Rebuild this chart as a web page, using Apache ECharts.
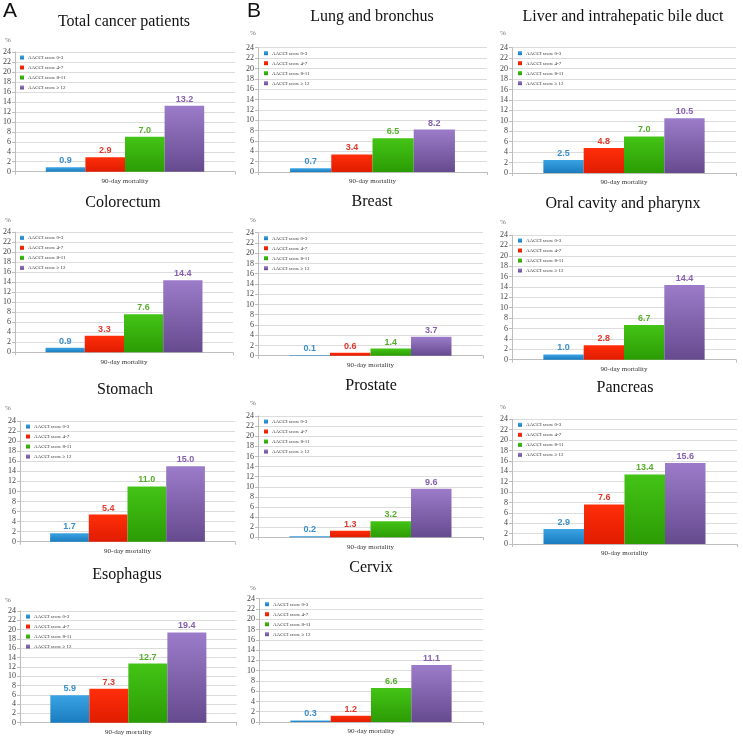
<!DOCTYPE html>
<html>
<head>
<meta charset="utf-8">
<script src="https://cdn.jsdelivr.net/npm/echarts@6/dist/echarts.min.js"></script>
<style>
html,body{margin:0;padding:0;background:#fff;}
#chart{width:743px;height:736px;}
</style>
</head>
<body>
<div id="chart"></div>
<script>
// ---- data ----
const categories = ['90-day mortality'];
const seriesNames = ['AACCI score 0-3', 'AACCI score 4-7', 'AACCI score 8-11', 'AACCI score \u2265 12'];
const panelTitles = ['Total cancer patients', 'Lung and bronchus', 'Liver and intrahepatic bile duct',
  'Colorectum', 'Breast', 'Oral cavity and pharynx',
  'Stomach', 'Prostate', 'Pancreas',
  'Esophagus', 'Cervix'];
const totalValues = [0.9, 2.9, 7.0, 13.2];
const lungValues = [0.7, 3.4, 6.5, 8.2];
const liverValues = [2.5, 4.8, 7.0, 10.5];
const colorectumValues = [0.9, 3.3, 7.6, 14.4];
const breastValues = [0.1, 0.6, 1.4, 3.7];
const oralValues = [1.0, 2.8, 6.7, 14.4];
const stomachValues = [1.7, 5.4, 11.0, 15.0];
const prostateValues = [0.2, 1.3, 3.2, 9.6];
const pancreasValues = [2.9, 7.6, 13.4, 15.6];
const esophagusValues = [5.9, 7.3, 12.7, 19.4];
const cervixValues = [0.3, 1.2, 6.6, 11.1];
const yAxisMin = 0, yAxisMax = 24, yAxisStep = 2;
const yAxisUnit = '%';
const panelLetters = ['A', 'B'];

const panelValues = [totalValues, lungValues, liverValues, colorectumValues, breastValues, oralValues,
  stomachValues, prostateValues, pancreasValues, esophagusValues, cervixValues];

// ---- layout (pixels) ----
const panelLayout = [
  {l: 14, r: 235, t: 52, b: 171.7, tx: 124, ty: 21.5, px: 5, py: 40},
  {l: 258, r: 487, t: 47.7, b: 172, tx: 372, ty: 17, px: 250, py: 33},
  {l: 512, r: 736, t: 47.7, b: 173, tx: 623, ty: 17, px: 500, py: 33},
  {l: 14, r: 233, t: 232.3, b: 352.3, tx: 123, ty: 202.5, px: 5, py: 220},
  {l: 258, r: 483, t: 232.7, b: 355.7, tx: 372, ty: 202, px: 250, py: 220},
  {l: 512, r: 736, t: 235, b: 359.7, tx: 623, ty: 204, px: 500, py: 221.7},
  {l: 20, r: 235, t: 421, b: 541.7, tx: 125, ty: 390, px: 5, py: 408},
  {l: 258, r: 483, t: 416, b: 537.3, tx: 371, ty: 386, px: 250, py: 403},
  {l: 512, r: 737, t: 419.3, b: 544, tx: 625, ty: 387.5, px: 500, py: 406.7},
  {l: 20, r: 236.7, t: 611, b: 722.7, tx: 127, ty: 575, px: 5, py: 600},
  {l: 259, r: 483, t: 598.7, b: 722, tx: 371, ty: 568, px: 250, py: 587.7}
];
const letterPos = [{x: 3, y: 1}, {x: 247, y: 1}];

// ---- styles ----
const barColors = [
  ['#3aa3e3', '#1a7cc0'],
  ['#ff2e0a', '#e01c00'],
  ['#44c416', '#2b9c04'],
  ['#9c7cca', '#664a8e']
];
const labelColors = ['#3a8fcc', '#e0392b', '#58ae2c', '#8560b0'];
const serif = '"Liberation Serif", "Times New Roman", serif';
const sans = '"Liberation Sans", Arial, sans-serif';

function grad(c) {
  return new echarts.graphic.LinearGradient(0, 0, 0, 1, [
    {offset: 0, color: c[0]}, {offset: 1, color: c[1]}
  ]);
}

const grids = [], xAxes = [], yAxes = [], series = [], legends = [], graphics = [];

panelLayout.forEach((p, i) => {
  grids.push({left: p.l, top: p.t, width: p.r - p.l, height: p.b - p.t, containLabel: false});
  xAxes.push({
    type: 'category', gridIndex: i, data: categories,
    axisLine: {show: true, lineStyle: {color: '#bdbdbd', width: 1}},
    axisTick: {show: true, length: 3, lineStyle: {color: '#bdbdbd'}},
    axisLabel: {fontFamily: serif, fontSize: 7, color: '#333', margin: 6}
  });
  yAxes.push({
    type: 'value', gridIndex: i, min: yAxisMin, max: yAxisMax, interval: yAxisStep,
    axisLine: {show: true, lineStyle: {color: '#bdbdbd', width: 1}},
    axisTick: {show: true, length: 3, lineStyle: {color: '#bdbdbd'}},
    axisLabel: {fontFamily: serif, fontSize: 8, color: '#444', margin: 4},
    splitLine: {show: true, lineStyle: {color: '#dcdcdc', width: 1}}
  });
  panelValues[i].forEach((v, k) => {
    series.push({
      type: 'bar', name: seriesNames[k], xAxisIndex: i, yAxisIndex: i,
      data: [v], barGap: '0%', barCategoryGap: '28%',
      itemStyle: {color: grad(barColors[k])},
      label: {
        show: true, position: 'top', distance: 2,
        formatter: (d) => d.value.toFixed(1),
        fontFamily: sans, fontSize: 9, fontWeight: 'bold', color: labelColors[k]
      },
      emphasis: {disabled: true},
      animation: false
    });
  });
  legends.push({
    orient: 'vertical', left: p.l + 6, top: p.t + 3,
    itemWidth: 4, itemHeight: 4, itemGap: 5, icon: 'rect',
    selectedMode: false, padding: 0,
    data: seriesNames,
    textStyle: {fontFamily: serif, fontSize: 5, color: '#333', padding: [0, 0, 0, -1]}
  });
  graphics.push({
    type: 'text', x: p.tx, y: p.ty,
    style: {text: panelTitles[i], font: '16px ' + serif, fill: '#111', align: 'center', verticalAlign: 'middle'}
  });
  graphics.push({
    type: 'text', x: p.px, y: p.py,
    style: {text: yAxisUnit, font: '7px ' + serif, fill: '#666', align: 'left', verticalAlign: 'middle'}
  });
});

panelLetters.forEach((t, i) => {
  graphics.push({
    type: 'text', x: letterPos[i].x, y: letterPos[i].y,
    style: {text: t, font: '21px ' + sans, fill: '#111', align: 'left', verticalAlign: 'top'}
  });
});

const chart = echarts.init(document.getElementById('chart'), null, {renderer: 'canvas'});
chart.setOption({
  animation: false,
  backgroundColor: '#fff',
  grid: grids,
  xAxis: xAxes,
  yAxis: yAxes,
  legend: legends,
  series: series,
  graphic: graphics
});
</script>
</body>
</html>
